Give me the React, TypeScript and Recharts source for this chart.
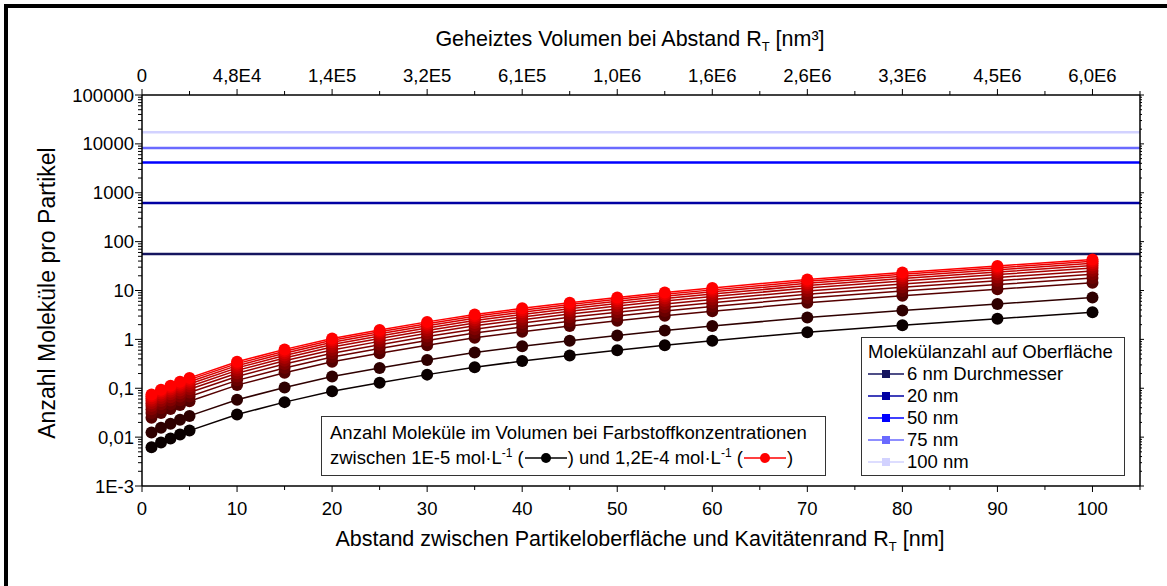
import React from 'react';
import { ComposedChart, Line, XAxis, YAxis, ReferenceLine } from 'recharts';

// Abstand R_T [nm]
const distances = [1, 2, 3, 4, 5, 10, 15, 20, 25, 30, 35, 40, 45, 50, 55, 60, 70, 80, 90, 100];

// Anzahl Moleküle im Volumen, je Farbstoffkonzentration
const n1E5 = [0.0062, 0.0078, 0.0094, 0.0113, 0.0136, 0.029, 0.052, 0.087, 0.13, 0.19, 0.27, 0.36, 0.47, 0.6, 0.76, 0.94, 1.4, 1.95, 2.65, 3.6];
const n2E5 = [0.0124, 0.0156, 0.0188, 0.0226, 0.0272, 0.058, 0.104, 0.174, 0.26, 0.38, 0.54, 0.72, 0.94, 1.2, 1.52, 1.88, 2.8, 3.9, 5.3, 7.2];
const n4E5 = [0.0248, 0.0312, 0.0376, 0.0452, 0.0544, 0.116, 0.208, 0.348, 0.52, 0.76, 1.08, 1.44, 1.88, 2.4, 3.04, 3.76, 5.6, 7.8, 10.6, 14.4];
const n5E5 = [0.031, 0.039, 0.047, 0.0565, 0.068, 0.145, 0.26, 0.435, 0.65, 0.95, 1.35, 1.8, 2.35, 3.0, 3.8, 4.7, 7.0, 9.75, 13.2, 18];
const n6E5 = [0.0372, 0.0468, 0.0564, 0.0678, 0.0816, 0.174, 0.312, 0.522, 0.78, 1.14, 1.62, 2.16, 2.82, 3.6, 4.56, 5.64, 8.4, 11.7, 15.9, 21.6];
const n7E5 = [0.0434, 0.0546, 0.0658, 0.0791, 0.0952, 0.203, 0.364, 0.609, 0.91, 1.33, 1.89, 2.52, 3.29, 4.2, 5.32, 6.58, 9.8, 13.6, 18.5, 25.2];
const n8E5 = [0.0496, 0.0624, 0.0752, 0.0904, 0.109, 0.232, 0.416, 0.696, 1.04, 1.52, 2.16, 2.88, 3.76, 4.8, 6.08, 7.52, 11.2, 15.6, 21.2, 28.8];
const n9E5 = [0.0558, 0.0702, 0.0846, 0.102, 0.122, 0.261, 0.468, 0.783, 1.17, 1.71, 2.43, 3.24, 4.23, 5.4, 6.84, 8.46, 12.6, 17.5, 23.8, 32.4];
const n10E5 = [0.062, 0.078, 0.094, 0.113, 0.136, 0.29, 0.52, 0.87, 1.3, 1.9, 2.7, 3.6, 4.7, 6.0, 7.6, 9.4, 14, 19.5, 26.5, 36];
const n11E5 = [0.0682, 0.0858, 0.103, 0.124, 0.15, 0.319, 0.572, 0.957, 1.43, 2.09, 2.97, 3.96, 5.17, 6.6, 8.36, 10.3, 15.4, 21.4, 29.1, 39.6];
const n12E5 = [0.0744, 0.0936, 0.113, 0.136, 0.163, 0.348, 0.624, 1.04, 1.56, 2.28, 3.24, 4.32, 5.64, 7.2, 9.12, 11.3, 16.8, 23.4, 31.8, 43.2];

const concSeries = [n1E5, n2E5, n4E5, n5E5, n6E5, n7E5, n8E5, n9E5, n10E5, n11E5, n12E5];
const concColors = ['#0a0000', '#2e0000', '#550000', '#6a0000', '#800000', '#950000', '#aa0000', '#bf0000', '#d40000', '#ea0000', '#ff0000'];

// Molekülanzahl auf Oberfläche
const surfaceLabels = ['6 nm Durchmesser', '20 nm', '50 nm', '75 nm', '100 nm'];
const surfaceCounts = [56, 615, 4160, 8280, 17300];
const surfaceColors = ['#15155f', '#0000a3', '#0000ff', '#6a6aff', '#d2d2ff'];

// Achsen
const xTicks = [0, 5, 10, 15, 20, 25, 30, 35, 40, 45, 50, 55, 60, 65, 70, 75, 80, 85, 90, 95, 100, 105];
const xMajor = [0, 10, 20, 30, 40, 50, 60, 70, 80, 90, 100];
const topLabels = ['0', '4,8E4', '1,4E5', '3,2E5', '6,1E5', '1,0E6', '1,6E6', '2,6E6', '3,3E6', '4,5E6', '6,0E6'];
const yMajor = [0.001, 0.01, 0.1, 1, 10, 100, 1000, 10000, 100000];
const yLabels = ['1E-3', '0,01', '0,1', '1', '10', '100', '1000', '10000', '100000'];

const FONT = '"Liberation Sans", Arial, sans-serif';
const TICK_FS = 18.5;
const LEG_FS = 18.5;

const yTicks: number[] = [];
yMajor.forEach((d, i) => {
  yTicks.push(d);
  if (i < yMajor.length - 1) for (let k = 2; k <= 9; k++) yTicks.push(+(d * k).toPrecision(3));
});

const data = distances.map((x, i) => {
  const row: Record<string, number> = { x };
  concSeries.forEach((s, j) => (row['c' + j] = s[i]));
  return row;
});

const majorIndexY = (v: number) => yMajor.findIndex((m) => Math.abs(m - v) / m < 1e-6);

const LeftTick = (props: any) => {
  const { x, y, payload } = props;
  const idx = majorIndexY(payload.value);
  const major = idx >= 0;
  return (
    <g>
      <line x1={x} x2={x - (major ? 7 : 4)} y1={y} y2={y} stroke="#000" strokeWidth={1} />
      {major && (
        <text x={x - 8} y={y} dy={6.5} textAnchor="end" fontSize={TICK_FS} fontFamily={FONT} fill="#000">
          {yLabels[idx]}
        </text>
      )}
    </g>
  );
};

const RightTick = (props: any) => {
  const { x, y, payload } = props;
  const major = majorIndexY(payload.value) >= 0;
  return <line x1={x} x2={x + (major ? 4 : 2)} y1={y} y2={y} stroke="#000" strokeWidth={1} />;
};

const BottomTick = (props: any) => {
  const { x, y, payload } = props;
  const idx = xMajor.indexOf(payload.value);
  const major = idx >= 0;
  return (
    <g>
      <line x1={x} x2={x} y1={y} y2={y + (major ? 6 : 4)} stroke="#000" strokeWidth={1} />
      {major && (
        <text x={x} y={y + 29} textAnchor="middle" fontSize={TICK_FS} fontFamily={FONT} fill="#000">
          {xMajor[idx]}
        </text>
      )}
    </g>
  );
};

const TopTick = (props: any) => {
  const { x, y, payload } = props;
  const idx = xMajor.indexOf(payload.value);
  const major = idx >= 0;
  return (
    <g>
      <line x1={x} x2={x} y1={y} y2={y - (major ? 6 : 4)} stroke="#000" strokeWidth={1} />
      {major && (
        <text x={x} y={y - 13} textAnchor="middle" fontSize={TICK_FS} fontFamily={FONT} fill="#000">
          {topLabels[idx]}
        </text>
      )}
    </g>
  );
};

const Sample = ({ color, square, w = 38 }: { color: string; square?: boolean; w?: number }) => (
  <svg width={w} height={14} style={{ display: 'block' }}>
    <line x1={1} x2={w - 1} y1={7} y2={7} stroke={color} strokeWidth={1.5} />
    {square ? (
      <rect x={w / 2 - 4} y={3} width={8} height={8} fill={color} />
    ) : (
      <circle cx={w / 2} cy={7} r={5} fill={color} />
    )}
  </svg>
);

const textStyle: React.CSSProperties = {
  position: 'absolute',
  fontFamily: FONT,
  color: '#000',
  whiteSpace: 'nowrap',
  lineHeight: 1.15,
};

export default function App() {
  return (
    <div style={{ position: 'absolute', left: 0, top: 0, width: 1167, height: 586, background: '#fff', overflow: 'hidden' }}>
      <div
        style={{
          position: 'absolute',
          left: 4,
          top: 4,
          width: 1180,
          height: 600,
          borderTop: '4px solid #000',
          borderLeft: '4px solid #000',
        }}
      />
      <ComposedChart width={1167} height={586} data={data} margin={{ top: 60, right: 0, bottom: 70, left: 0 }}>
        <XAxis
          dataKey="x"
          type="number"
          domain={[0, 105]}
          allowDataOverflow
          ticks={xTicks}
          interval={0}
          height={30}
          tickSize={0}
          tickMargin={0}
          tickLine={false}
          tick={<BottomTick />}
          axisLine={{ stroke: '#000', strokeWidth: 1.5 }}
        />
        <XAxis
          xAxisId="top"
          dataKey="x"
          orientation="top"
          type="number"
          domain={[0, 105]}
          allowDataOverflow
          ticks={xTicks}
          interval={0}
          height={35}
          tickSize={0}
          tickMargin={0}
          tickLine={false}
          tick={<TopTick />}
          axisLine={{ stroke: '#000', strokeWidth: 1.5 }}
        />
        <YAxis
          scale="log"
          type="number"
          domain={[0.001, 100000]}
          allowDataOverflow
          ticks={yTicks}
          interval={0}
          width={142}
          tickSize={0}
          tickMargin={0}
          tickLine={false}
          tick={<LeftTick />}
          axisLine={{ stroke: '#000', strokeWidth: 1.5 }}
        />
        <YAxis
          yAxisId="right"
          orientation="right"
          scale="log"
          type="number"
          domain={[0.001, 100000]}
          allowDataOverflow
          ticks={yTicks}
          interval={0}
          width={27}
          tickSize={0}
          tickMargin={0}
          tickLine={false}
          tick={<RightTick />}
          axisLine={{ stroke: '#000', strokeWidth: 1.5 }}
        />
        {surfaceCounts.map((v, i) => (
          <ReferenceLine key={surfaceLabels[i]} y={v} stroke={surfaceColors[i]} strokeWidth={2.5} />
        ))}
        {concSeries.map((_, j) => (
          <Line
            key={j}
            dataKey={'c' + j}
            stroke={concColors[j]}
            strokeWidth={1.5}
            dot={{ r: 6, fill: concColors[j], stroke: concColors[j], strokeWidth: 0 }}
            isAnimationActive={false}
          />
        ))}
      </ComposedChart>

      <div style={{ ...textStyle, left: 280, width: 700, top: 27, fontSize: 21.5, textAlign: 'center' }}>
        Geheiztes Volumen bei Abstand R<sub style={{ fontSize: 13 }}>T</sub> [nm³]
      </div>
      <div style={{ ...textStyle, left: 290, width: 700, top: 527, fontSize: 21.5, textAlign: 'center' }}>
        Abstand zwischen Partikeloberfläche und Kavitätenrand R<sub style={{ fontSize: 13 }}>T</sub> [nm]
      </div>
      <div
        style={{
          ...textStyle,
          left: 47,
          top: 293,
          fontSize: 23,
          transform: 'translate(-50%, -50%) rotate(-90deg)',
        }}
      >
        Anzahl Moleküle pro Partikel
      </div>

      <div
        style={{
          position: 'absolute',
          left: 861,
          top: 337,
          width: 262,
          height: 137,
          border: '1.5px solid #333',
          background: '#fff',
        }}
      >
        <div style={{ ...textStyle, left: 6, top: 3, fontSize: LEG_FS }}>Molekülanzahl auf Oberfläche</div>
        {surfaceLabels.map((l, i) => (
          <div key={l} style={{ ...textStyle, left: 5, top: 25 + i * 22, fontSize: LEG_FS, display: 'flex', alignItems: 'center' }}>
            <Sample color={surfaceColors[i]} square />
            <span style={{ marginLeft: 2 }}>{l}</span>
          </div>
        ))}
      </div>

      <div
        style={{
          position: 'absolute',
          left: 321,
          top: 416,
          width: 503,
          height: 58,
          border: '1.5px solid #333',
          background: '#fff',
        }}
      >
        <div style={{ ...textStyle, left: 8, top: 5, fontSize: LEG_FS }}>
          Anzahl Moleküle im Volumen bei Farbstoffkonzentrationen
        </div>
        <div style={{ ...textStyle, left: 8, top: 30, fontSize: LEG_FS, display: 'flex', alignItems: 'center' }}>
          <span>
            zwischen 1E-5 mol·L<sup style={{ fontSize: 12 }}>-1</sup> (
          </span>
          <Sample color="#000" w={44} />
          <span>
            ) und 1,2E-4 mol·L<sup style={{ fontSize: 12 }}>-1</sup> (
          </span>
          <Sample color="#ff0000" w={44} />
          <span>)</span>
        </div>
      </div>
    </div>
  );
}
